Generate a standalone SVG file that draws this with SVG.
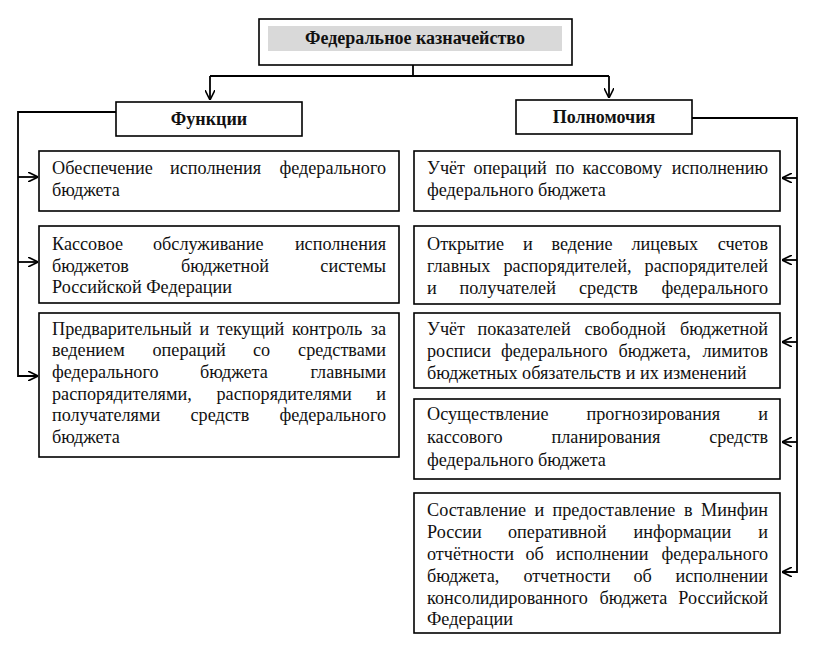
<svg xmlns="http://www.w3.org/2000/svg" width="839" height="654" viewBox="0 0 839 654">
<defs>
<style>
.box{fill:#fff;stroke:#000;stroke-width:1.6}
text{font-family:"Liberation Serif","Times New Roman",serif;fill:#111}
.t{font-size:18.2px}
.e{text-anchor:end}
.h{font-size:18px;font-weight:bold;text-anchor:middle}
.c{fill:none;stroke:#000;stroke-width:1.8}
</style>
<marker id="ah" viewBox="0 0 10 10" refX="10" refY="5" markerWidth="10" markerHeight="10" markerUnits="userSpaceOnUse" orient="auto">
<path d="M0,0 L10,5 L0,10" fill="none" stroke="#000" stroke-width="1.6"/>
</marker>
</defs>
<rect width="839" height="654" fill="#fff"/>

<g id="connectors">
<path class="c" d="M413,65 V76 M210,76 H609"/>
<path class="c" d="M210,76 V100" marker-end="url(#ah)"/>
<path class="c" d="M609,76 V98" marker-end="url(#ah)"/>
<path class="c" d="M116,112 H18 V376 H38" marker-end="url(#ah)"/>
<path class="c" d="M18,177 H38" marker-end="url(#ah)"/>
<path class="c" d="M18,262 H38" marker-end="url(#ah)"/>
<path class="c" d="M692,118 H797 V572 H782" marker-end="url(#ah)"/>
<path class="c" d="M797,178 H782" marker-end="url(#ah)"/>
<path class="c" d="M797,260 H782" marker-end="url(#ah)"/>
<path class="c" d="M797,342 H782" marker-end="url(#ah)"/>
<path class="c" d="M797,442 H782" marker-end="url(#ah)"/>
</g>

<g id="root">
<rect class="box" x="259" y="19" width="313" height="46"/>
<rect x="268" y="26" width="294" height="25" fill="#d9d9d9"/>
<text class="h" x="415" y="44">Федеральное казначейство</text>
</g>

<g id="functions">
<rect class="box" x="116" y="102" width="186" height="34"/>
<text class="h" x="209" y="125">Функции</text>
</g>

<g id="powers">
<rect class="box" x="516" y="100" width="176" height="34"/>
<text class="h" x="604" y="123">Полномочия</text>
</g>

<g id="f1">
<rect class="box" x="39" y="151" width="360" height="60"/>
<text class="t" x="52" y="174">Обеспечение</text><text class="t" x="170" y="174">исполнения</text><text class="t e" x="386" y="174">федерального</text>
<text class="t" x="52" y="196">бюджета</text>
</g>

<g id="f2">
<rect class="box" x="39" y="226" width="360" height="77"/>
<text class="t" x="52" y="250">Кассовое</text><text class="t" x="153" y="250">обслуживание</text><text class="t e" x="386" y="250">исполнения</text>
<text class="t" x="52" y="272">бюджетов</text><text class="t" x="181" y="272">бюджетной</text><text class="t e" x="386" y="272">системы</text>
<text class="t" x="52" y="293">Российской Федерации</text>
</g>

<g id="f3">
<rect class="box" x="39" y="313" width="360" height="144"/>
<text class="t" x="52" y="335">Предварительный</text><text class="t" x="199.5" y="335">и</text><text class="t" x="217" y="335">текущий</text><text class="t" x="292" y="335">контроль</text><text class="t e" x="386" y="335">за</text>
<text class="t" x="52" y="356">ведением</text><text class="t" x="152.5" y="356">операций</text><text class="t" x="253" y="356">со</text><text class="t e" x="386" y="356">средствами</text>
<text class="t" x="52" y="378">федерального</text><text class="t" x="200" y="378">бюджета</text><text class="t e" x="386" y="378">главными</text>
<text class="t" x="52" y="400">распорядителями,</text><text class="t" x="216.5" y="400">распорядителями</text><text class="t e" x="386" y="400">и</text>
<text class="t" x="52" y="421">получателями</text><text class="t" x="190.5" y="421">средств</text><text class="t e" x="386" y="421">федерального</text>
<text class="t" x="52" y="443">бюджета</text>
</g>

<g id="p1">
<rect class="box" x="414" y="151" width="366" height="60"/>
<text class="t" x="427" y="174">Учёт</text><text class="t" x="473.5" y="174">операций</text><text class="t" x="555.5" y="174">по</text><text class="t" x="582.5" y="174">кассовому</text><text class="t e" x="768" y="174">исполнению</text>
<text class="t" x="427" y="196">федерального бюджета</text>
</g>

<g id="p2">
<rect class="box" x="414" y="226" width="366" height="78"/>
<text class="t" x="427" y="250">Открытие</text><text class="t" x="523" y="250">и</text><text class="t" x="551.5" y="250">ведение</text><text class="t" x="631.5" y="250">лицевых</text><text class="t e" x="768" y="250">счетов</text>
<text class="t" x="427" y="272">главных</text><text class="t" x="503.5" y="272">распорядителей,</text><text class="t e" x="768" y="272">распорядителей</text>
<text class="t" x="427" y="294">и</text><text class="t" x="459.5" y="294">получателей</text><text class="t" x="579" y="294">средств</text><text class="t e" x="768" y="294">федерального</text>
</g>

<g id="p3">
<rect class="box" x="414" y="313" width="366" height="75"/>
<text class="t" x="427" y="335">Учёт</text><text class="t" x="477.5" y="335">показателей</text><text class="t" x="584.5" y="335">свободной</text><text class="t e" x="768" y="335">бюджетной</text>
<text class="t" x="427" y="357">росписи</text><text class="t" x="501" y="357">федерального</text><text class="t" x="618.5" y="357">бюджета,</text><text class="t e" x="768" y="357">лимитов</text>
<text class="t" x="427" y="379">бюджетных обязательств и их изменений</text>
</g>

<g id="p4">
<rect class="box" x="414" y="399" width="366" height="80"/>
<text class="t" x="427" y="420">Осуществление</text><text class="t" x="586.5" y="420">прогнозирования</text><text class="t e" x="768" y="420">и</text>
<text class="t" x="427" y="443">кассового</text><text class="t" x="551.5" y="443">планирования</text><text class="t e" x="768" y="443">средств</text>
<text class="t" x="427" y="466">федерального бюджета</text>
</g>

<g id="p5">
<rect class="box" x="414" y="493" width="366" height="140"/>
<text class="t" x="427" y="516">Составление</text><text class="t" x="534.5" y="516">и</text><text class="t" x="552.5" y="516">предоставление</text><text class="t" x="684" y="516">в</text><text class="t e" x="768" y="516">Минфин</text>
<text class="t" x="427" y="538">России</text><text class="t" x="508" y="538">оперативной</text><text class="t" x="633.5" y="538">информации</text><text class="t e" x="768" y="538">и</text>
<text class="t" x="427" y="560">отчётности</text><text class="t" x="525.5" y="560">об</text><text class="t" x="556" y="560">исполнении</text><text class="t e" x="768" y="560">федерального</text>
<text class="t" x="427" y="582">бюджета,</text><text class="t" x="523.5" y="582">отчетности</text><text class="t" x="633.5" y="582">об</text><text class="t e" x="768" y="582">исполнении</text>
<text class="t" x="427" y="604">консолидированного</text><text class="t" x="599.5" y="604">бюджета</text><text class="t e" x="768" y="604">Российской</text>
<text class="t" x="427" y="625">Федерации</text>
</g>
</svg>
